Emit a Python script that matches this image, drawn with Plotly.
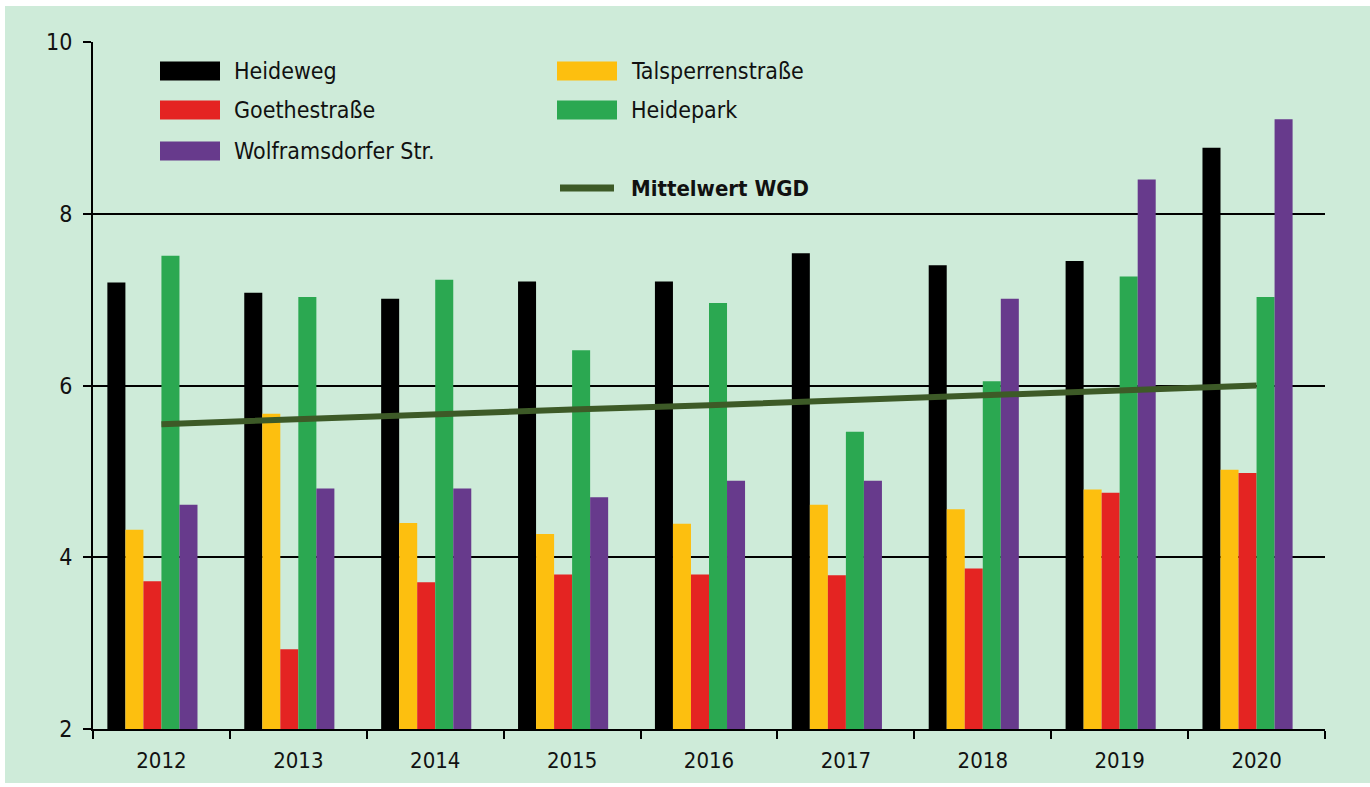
import plotly.graph_objects as go

# ---------------- data ----------------
years = ["2012", "2013", "2014", "2015", "2016", "2017", "2018", "2019", "2020"]
heideweg = [7.20, 7.08, 7.01, 7.21, 7.21, 7.54, 7.40, 7.45, 8.77]
talsperrenstrasse = [4.32, 5.67, 4.40, 4.27, 4.39, 4.61, 4.56, 4.79, 5.02]
goethestrasse = [3.72, 2.93, 3.71, 3.80, 3.80, 3.79, 3.87, 4.75, 4.98]
heidepark = [7.51, 7.03, 7.23, 6.41, 6.96, 5.46, 6.05, 7.27, 7.03]
wolframsdorfer = [4.61, 4.80, 4.80, 4.70, 4.89, 4.89, 7.01, 8.40, 9.10]
mittelwert_wgd = [5.55, 5.61, 5.66, 5.72, 5.77, 5.83, 5.89, 5.94, 6.00]
y_ticks = [2, 4, 6, 8, 10]

# ---------------- style ----------------
W, H = 1370, 787
ML, MR, MT, MB = 93, 45, 42, 58
PW, PH = W - ML - MR, H - MT - MB
BG = "#CEEBD9"
FONT = "DejaVu Sans Condensed, Liberation Sans Narrow, Roboto, sans-serif"
C_BLACK = "#000000"
C_YELLOW = "#FDBF0F"
C_RED = "#E42422"
C_GREEN = "#2BA851"
C_PURPLE = "#673A8C"
C_LINE = "#3D5A27"
TXT = "#111111"

series = [
    ("Heideweg", heideweg, C_BLACK),
    ("Talsperrenstraße", talsperrenstrasse, C_YELLOW),
    ("Goethestraße", goethestrasse, C_RED),
    ("Heidepark", heidepark, C_GREEN),
    ("Wolframsdorfer Str.", wolframsdorfer, C_PURPLE),
]


def px_x(px):
    return (px - ML) / PW


def px_y(py):
    return (H - MB - py) / PH


fig = go.Figure()
for name, vals, col in series:
    fig.add_trace(go.Bar(x=years, y=vals, name=name, marker=dict(color=col, line=dict(width=0)),
                         showlegend=False))
# empty sixth slot (as in the original group layout)
fig.add_trace(go.Bar(x=years, y=[None] * len(years), showlegend=False, hoverinfo="skip"))

fig.add_trace(go.Scatter(x=years, y=mittelwert_wgd, mode="lines", name="Mittelwert WGD",
                         line=dict(color=C_LINE, width=6), showlegend=False))

shapes = []
annotations = []
# background panel with thin white border
shapes.append(dict(type="rect", xref="paper", yref="paper", layer="below",
                   x0=px_x(5), x1=px_x(1372), y0=px_y(783), y1=px_y(6),
                   fillcolor=BG, line=dict(width=0)))

# manual legend
legend_items = [
    ("Heideweg", C_BLACK, 160, 71, "bar", False),
    ("Goethestraße", C_RED, 160, 110, "bar", False),
    ("Wolframsdorfer Str.", C_PURPLE, 160, 151, "bar", False),
    ("Talsperrenstraße", C_YELLOW, 557, 71, "bar", False),
    ("Heidepark", C_GREEN, 557, 110, "bar", False),
    ("Mittelwert WGD", C_LINE, 557, 188, "line", True),
]
for label, col, x0, yc, kind, bold in legend_items:
    if kind == "bar":
        shapes.append(dict(type="rect", xref="paper", yref="paper",
                           x0=px_x(x0), x1=px_x(x0 + 60), y0=px_y(yc + 9.5), y1=px_y(yc - 9.5),
                           fillcolor=col, line=dict(width=0)))
    else:
        shapes.append(dict(type="line", xref="paper", yref="paper",
                           x0=px_x(x0 + 3), x1=px_x(x0 + 57), y0=px_y(yc), y1=px_y(yc),
                           line=dict(color=col, width=7)))
    annotations.append(dict(xref="paper", yref="paper", x=px_x(x0 + 72), y=px_y(yc),
                            xanchor="left", yanchor="middle", showarrow=False,
                            text=f"<b>{label}</b>" if bold else label,
                            font=dict(family=FONT, size=23 if not bold else 22, color=TXT)))

fig.update_layout(
    width=W, height=H,
    margin=dict(l=ML, r=MR, t=MT, b=MB, pad=0),
    paper_bgcolor="white",
    plot_bgcolor="rgba(0,0,0,0)",
    barmode="group",
    bargap=0.21,
    bargroupgap=0,
    font=dict(family=FONT, size=22, color=TXT),
    shapes=shapes,
    annotations=annotations,
    showlegend=False,
)
fig.update_xaxes(
    type="category",
    showline=True, linecolor="black", linewidth=2,
    ticks="outside", tickson="boundaries", ticklen=8, tickwidth=2, tickcolor="black",
    showgrid=False,
    ticklabelstandoff=11,
    tickfont=dict(family=FONT, size=22, color=TXT),
)
fig.update_yaxes(
    range=[2, 10],
    tickvals=y_ticks,
    showline=True, linecolor="black", linewidth=2,
    ticks="outside", ticklen=8, tickwidth=2, tickcolor="black",
    showgrid=True, gridcolor="black", gridwidth=2,
    zeroline=False,
    ticklabelstandoff=6,
    tickfont=dict(family=FONT, size=23, color=TXT),
)

fig.write_html("out.html", config={"displayModeBar": False},
               post_script="document.body.style.margin='0';document.body.style.overflow='hidden';")
